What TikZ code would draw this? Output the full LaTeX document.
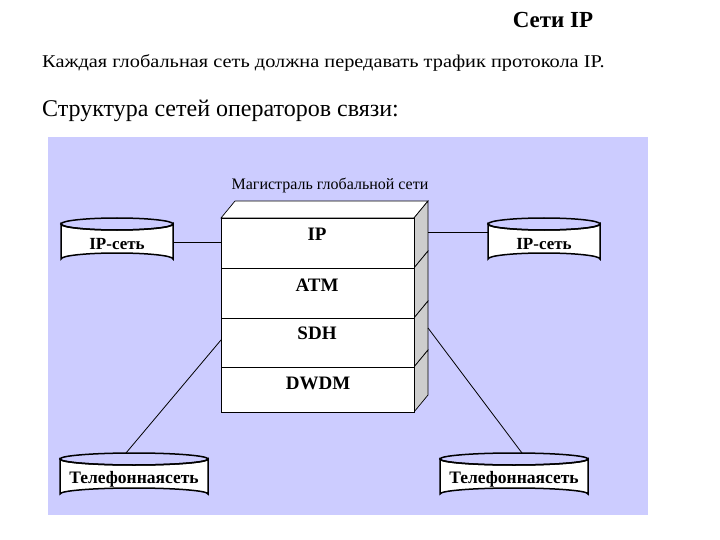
\documentclass[tikz,border=0pt]{standalone}
\usepackage{fontspec}
\usepackage{graphicx}
\setmainfont{Liberation Serif}
\begin{document}
\begin{tikzpicture}[x=1pt,y=-1pt,
  panel/.style={fill=lav,draw=none},
  layer/.style={draw=black,line width=0.7pt,fill=white,minimum width=193pt,inner sep=0pt},
  side/.style={draw=black,line width=0.7pt,fill=sidegray},
  topface/.style={draw=black,line width=0.7pt,fill=white},
  laytext/.style={font=\fontsize{19}{21}\selectfont\bfseries,inner sep=0pt},
  cyltext/.style={font=\fontsize{17}{19}\selectfont\bfseries,inner sep=0pt},
  teltext/.style={font=\fontsize{17.5}{19}\selectfont\bfseries,inner sep=0pt},
  cylbody/.style={draw=none,inner sep=0pt},
  link/.style={draw=black,line width=0.8pt},
  cylline/.style={draw=black,line width=1.5pt,fill=white}]
\definecolor{lav}{RGB}{204,204,255}
\definecolor{sidegray}{RGB}{205,205,205}
\useasboundingbox (0,0) rectangle (720,540);
\fill[white] (0,0) rectangle (720,540);
% headings
\node[font=\fontsize{23}{25}\selectfont\bfseries,inner sep=0pt] (title) at (553,20) {Сети IP};
\node[anchor=base west,font=\fontsize{18}{20}\selectfont,inner sep=0pt] (line1) at (42,68) {\scalebox{1.13}[1]{Каждая глобальная сеть должна передавать трафик протокола IP.}};
\node[anchor=base west,font=\fontsize{24}{26}\selectfont,inner sep=0pt] (line2) at (42,117) {Структура сетей операторов связи:};
% panel
\path[panel] (48,137) rectangle (648,515);
\node[font=\fontsize{16}{18}\selectfont,inner sep=0pt] (mag) at (330,185) {Магистраль глобальной сети};
% stack top face
\path[topface] (221,218) -- (235,201) -- (428,201) -- (414,218) -- cycle;
% side faces
\path[side] (414,218) -- (428,201) -- (428,251) -- (414,268) -- cycle;
\path[side] (414,268) -- (428,251) -- (428,301) -- (414,318) -- cycle;
\path[side] (414,318) -- (428,301) -- (428,350) -- (414,367) -- cycle;
\path[side] (414,367) -- (428,350) -- (428,395) -- (414,412) -- cycle;
% layers
\node[layer,minimum height=50pt] (ip) at (317.5,243) {};
\node[layer,minimum height=50pt] (atm) at (317.5,293) {};
\node[layer,minimum height=49pt] (sdh) at (317.5,342.5) {};
\node[layer,minimum height=45pt] (dwdm) at (317.5,389.5) {};
\node[laytext] (ipT) at (317,234) {IP};
\node[laytext] (atmT) at (317,285) {ATM};
\node[laytext] (sdhT) at (317,333) {SDH};
\node[laytext] (dwdmT) at (318,383) {DWDM};
\coordinate (sideIP) at (428,232);
\coordinate (sideSDH) at (428,328);
\coordinate (leftSDH) at (221,340);
% cylinders
\newcommand\mycyl[7]{% name, cx, ytop, ybot, rx, label, style
  \path[cylline] ({#2-#5},#3) -- ({#2-#5},#4) arc[start angle=180,end angle=360,x radius=#5,y radius=6] -- ({#2+#5},#3) arc[start angle=0,end angle=180,x radius=#5,y radius=6] -- cycle;
  \draw[line width=1.5pt] (#2,#3) ellipse[x radius=#5,y radius=6];
  \node[cylbody,minimum width={2*#5},minimum height={#4-#3+12}] (#1) at (#2,{(#3+#4)/2}) {};
  \node[#7] (#1T) at (#2,{(#3+#4)/2+3}) {#6};
}
\mycyl{ipL}{117}{224}{259}{56}{IP-сеть}{cyltext}
\mycyl{ipR}{544}{224}{259}{56}{IP-сеть}{cyltext}
\mycyl{telL}{134}{459}{494}{74}{Телефоннаясеть}{teltext}
\mycyl{telR}{514}{459}{494}{74}{Телефоннаясеть}{teltext}
\coordinate (telLtop) at (126,453);
\coordinate (telRtop) at (522,453);
% connectors
\draw[link] (ipL.east |- 0,242) -- (ip.west |- 0,242);
\draw[link] (sideIP) -- (sideIP -| ipR.west);
\draw[link] (telLtop) -- (leftSDH);
\draw[link] (telRtop) -- (sideSDH);
\end{tikzpicture}
\end{document}
